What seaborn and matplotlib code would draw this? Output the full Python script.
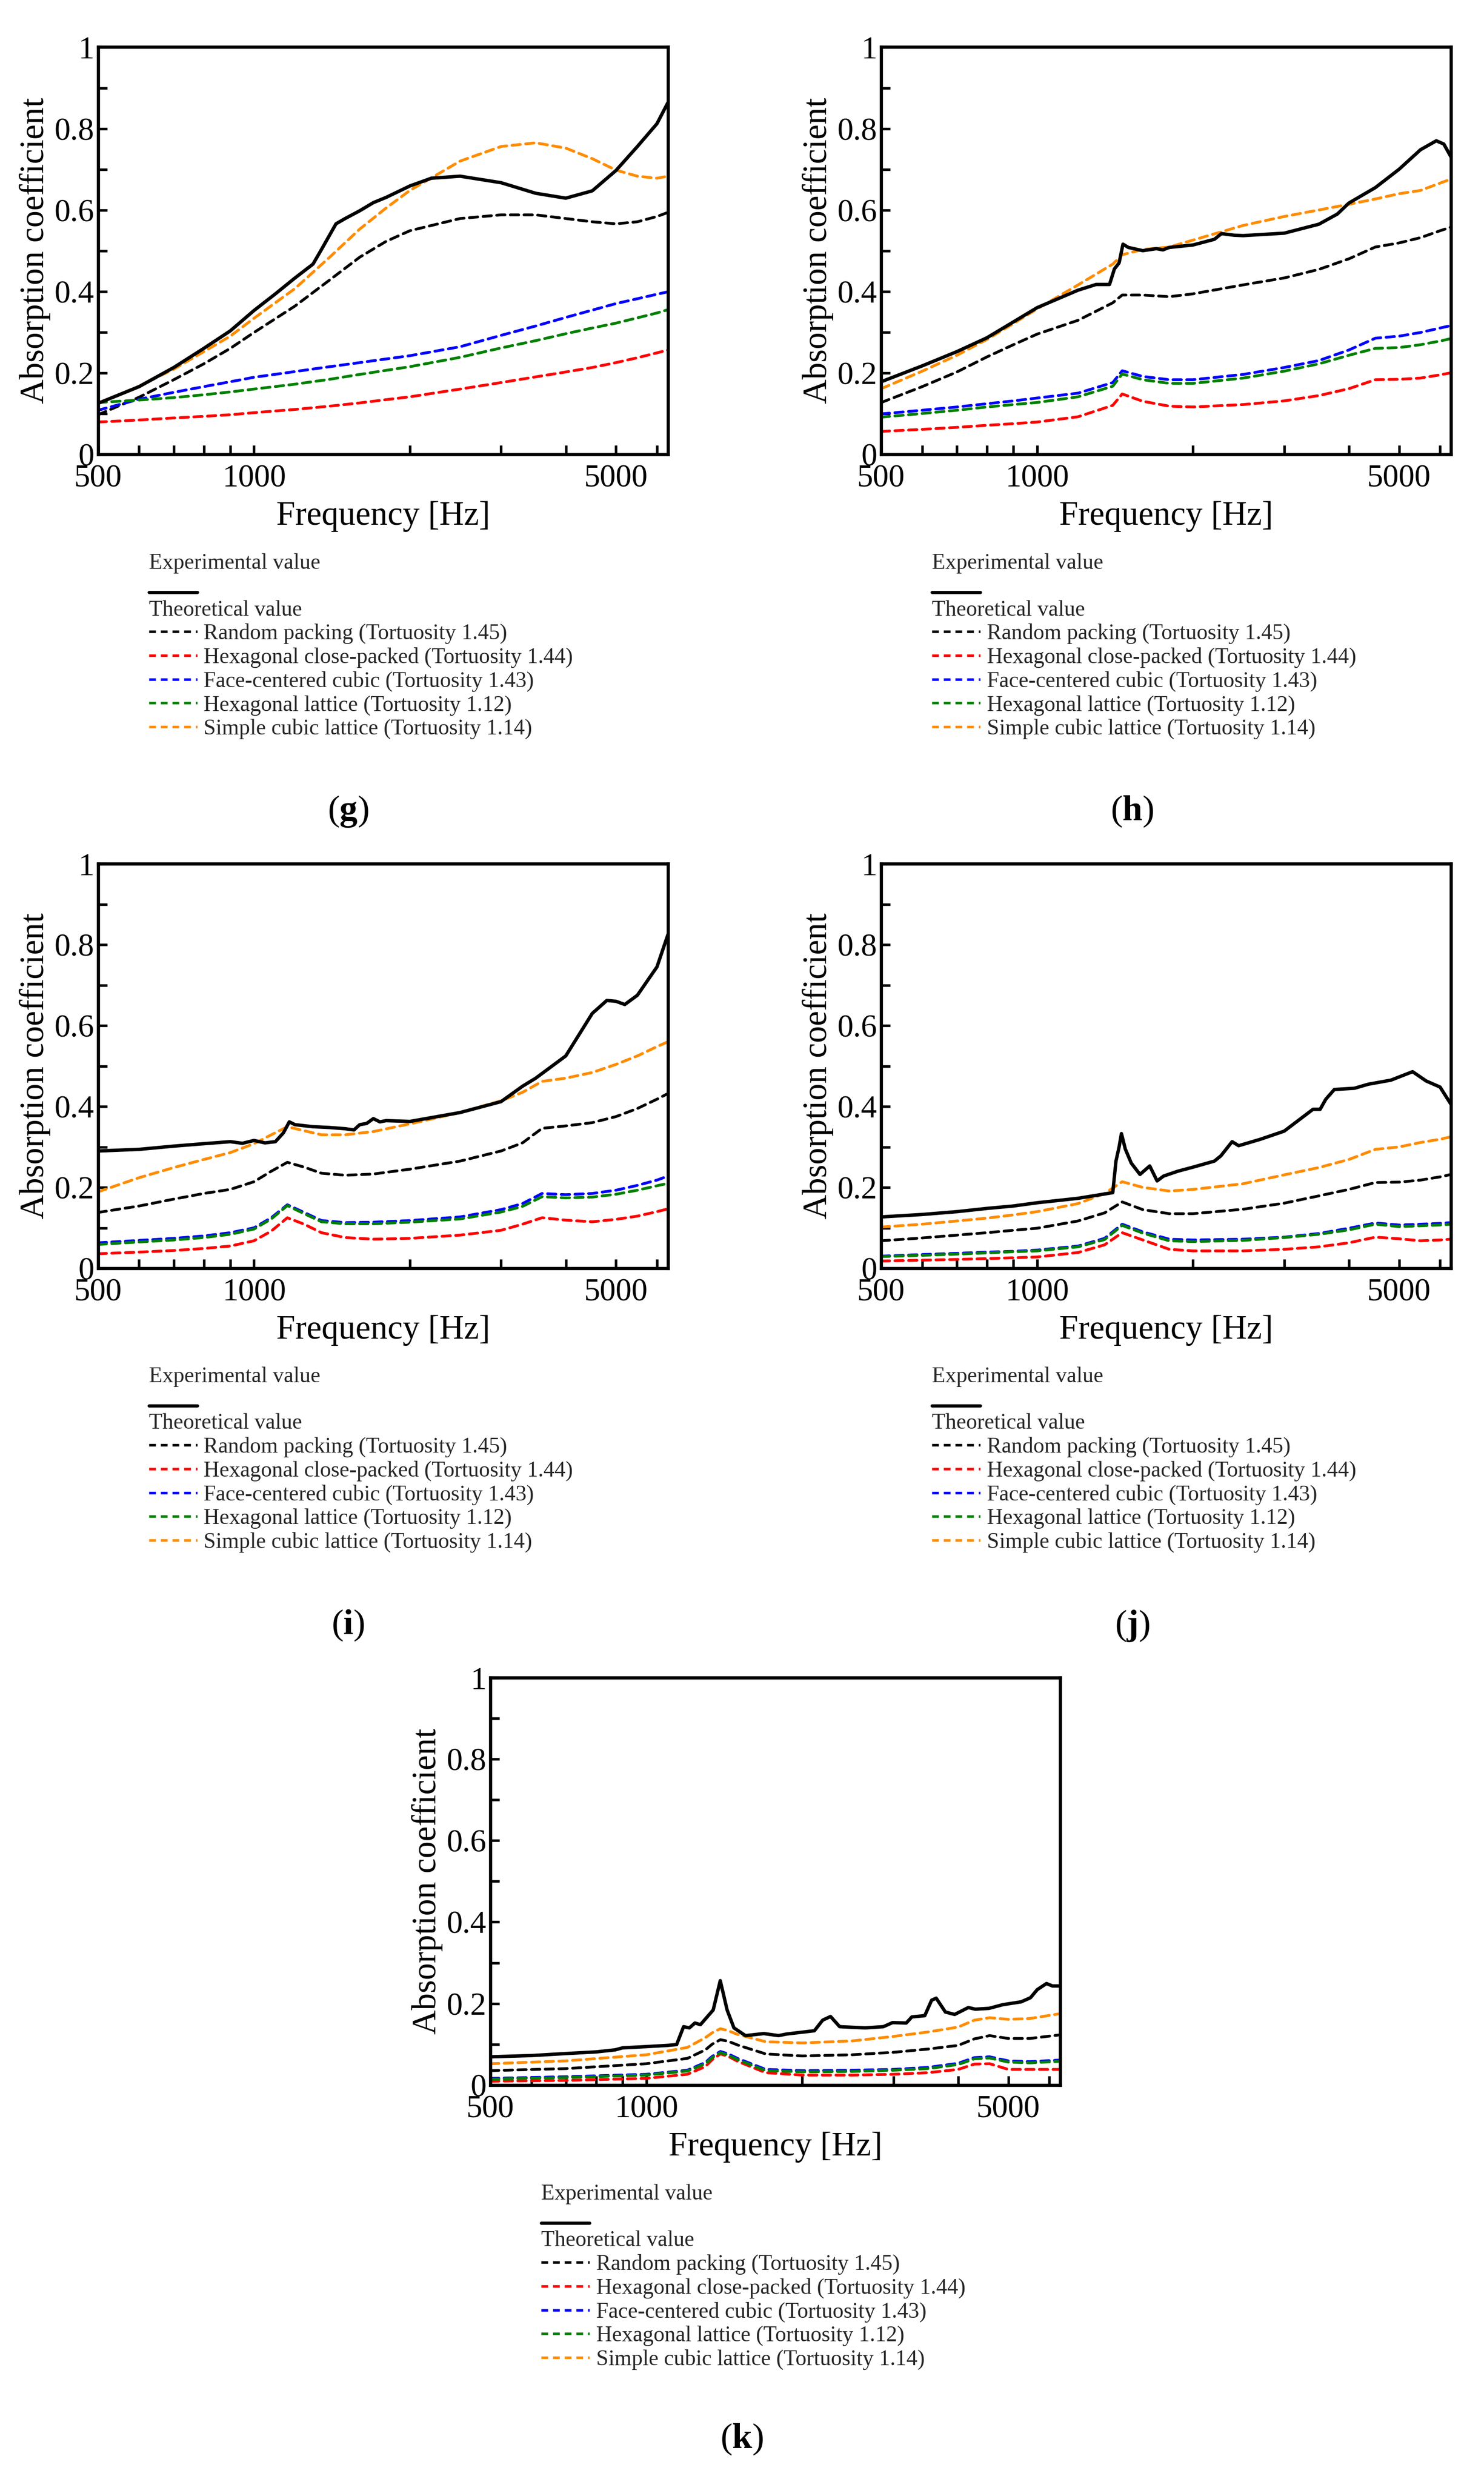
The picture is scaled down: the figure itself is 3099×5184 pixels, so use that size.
import matplotlib
matplotlib.use("Agg")
import matplotlib.pyplot as plt
from matplotlib.lines import Line2D
import seaborn as sns

# ---- common -------------------------------------------------------------
series_names = [
    "Random packing (Tortuosity 1.45)",
    "Hexagonal close-packed (Tortuosity 1.44)",
    "Face-centered cubic (Tortuosity 1.43)",
    "Hexagonal lattice (Tortuosity 1.12)",
    "Simple cubic lattice (Tortuosity 1.14)",
]
series_colors = ["#000000", "#ff0000", "#0000ff", "#008000", "#ff8c00"]
x_major = [500, 1000, 5000]
x_minor = [600, 700, 800, 900, 2000, 3000, 4000, 6000]
y_major = [0, 0.2, 0.4, 0.6, 0.8, 1.0]
y_major_labels = ["0", "0.2", "0.4", "0.6", "0.8", "1"]
y_minor = [0.1, 0.3, 0.5, 0.7, 0.9]

# ---- panel g ------------------------------------------------------------
g_freq = [500, 600, 700, 800, 900, 1000, 1200, 1400, 1600, 1800, 2000, 2500,
          3000, 3500, 4000, 4500, 5000, 5500, 6000, 6300]
g_random = [.097, .14, .183, .222, .26, .299, .364, .428, .484, .523, .549, .579,
            .588, .588, .579, .571, .566, .571, .584, .594]
g_hcp = [.079, .084, .089, .093, .097, .102, .11, .118, .126, .134, .141, .16,
         .176, .19, .202, .213, .225, .237, .249, .256]
g_fcc = [.108, .135, .152, .166, .178, .189, .203, .215, .225, .234, .242, .264,
         .292, .315, .336, .354, .37, .382, .393, .399]
g_hex = [.127, .133, .139, .146, .153, .16, .172, .184, .196, .206, .215, .238,
         .261, .279, .296, .31, .322, .335, .347, .355]
g_sc = [.125, .167, .209, .252, .29, .334, .407, .484, .553, .605, .648, .72,
        .756, .765, .752, .726, .698, .683, .678, .683]
g_exp_freq = [500, 600, 700, 800, 900, 1000, 1100, 1200, 1300, 1350, 1440, 1500,
              1600, 1700, 1800, 2000, 2200, 2500, 3000, 3500, 4000, 4500, 5000,
              5500, 6000, 6300]
g_exp = [.125, .166, .213, .26, .303, .353, .394, .433, .467, .503, .566, .579,
         .598, .618, .631, .659, .678, .683, .667, .641, .629, .647, .697, .756,
         .812, .864]

# ---- panel h ------------------------------------------------------------
h_freq = [500, 600, 700, 800, 900, 1000, 1200, 1400, 1460, 1600, 1800, 2000,
          2500, 3000, 3500, 4000, 4500, 5000, 5500, 6000, 6300]
h_random = [.127, .166, .202, .239, .269, .295, .329, .372, .391, .391, .387, .394,
            .416, .433, .454, .48, .509, .519, .532, .549, .558]
h_hcp = [.056, .061, .066, .071, .075, .079, .092, .12, .148, .13, .118, .116,
         .122, .131, .144, .161, .183, .184, .187, .195, .2]
h_fcc = [.099, .108, .116, .124, .131, .138, .15, .176, .205, .191, .183, .183,
         .196, .213, .23, .256, .285, .29, .299, .31, .316]
h_hex = [.091, .1, .108, .116, .122, .127, .141, .167, .197, .183, .174, .174,
         .187, .204, .222, .243, .26, .262, .269, .278, .284]
h_sc = [.161, .204, .243, .282, .321, .357, .416, .467, .49, .503, .509, .526,
        .562, .584, .6, .614, .627, .64, .648, .666, .676]
h_exp_freq = [500, 600, 700, 800, 900, 1000, 1200, 1300, 1380, 1410, 1440, 1465,
              1500, 1600, 1700, 1750, 1800, 2000, 2200, 2270, 2400, 2500, 3000,
              3500, 3800, 4000, 4500, 5000, 5500, 5900, 6100, 6300]
h_exp = [.178, .217, .252, .286, .325, .36, .403, .417, .417, .455, .47, .516,
         .508, .5, .505, .502, .508, .514, .528, .542, .538, .537, .543, .565,
         .59, .617, .655, .7, .748, .77, .762, .73]

# ---- panel i ------------------------------------------------------------
i_freq = [500, 600, 700, 800, 900, 1000, 1080, 1160, 1250, 1350, 1500, 1700,
          2000, 2500, 3000, 3300, 3600, 4000, 4500, 5000, 5500, 6000, 6300]
i_random = [.138, .154, .171, .185, .195, .214, .24, .262, .25, .235, .23, .233,
            .245, .265, .29, .31, .346, .352, .36, .375, .395, .418, .432]
i_hcp = [.036, .04, .044, .049, .055, .068, .092, .125, .109, .088, .076, .072,
         .074, .082, .094, .109, .125, .119, .115, .121, .129, .14, .147]
i_fcc = [.063, .069, .074, .08, .088, .1, .125, .157, .138, .118, .113, .114,
         .118, .127, .145, .16, .185, .182, .185, .193, .205, .218, .228]
i_hex = [.059, .065, .07, .076, .084, .097, .122, .155, .135, .115, .11, .11,
         .114, .122, .139, .153, .177, .174, .176, .183, .193, .204, .21]
i_sc = [.189, .224, .249, .269, .286, .308, .33, .35, .34, .33, .33, .338,
        .357, .385, .414, .435, .462, .47, .484, .504, .525, .548, .56]
i_exp_freq = [500, 600, 700, 800, 900, 950, 1000, 1050, 1100, 1140, 1170, 1200,
              1300, 1400, 1500, 1560, 1600, 1650, 1700, 1750, 1800, 2000, 2500,
              3000, 3300, 3500, 4000, 4500, 4800, 5000, 5200, 5500, 6000, 6300]
i_exp = [.29, .294, .302, .308, .313, .309, .316, .31, .313, .335, .362, .355,
         .35, .348, .345, .342, .355, .358, .37, .362, .365, .363, .385, .412,
         .45, .47, .525, .63, .662, .66, .652, .675, .745, .825]

# ---- panel j ------------------------------------------------------------
j_freq = [500, 600, 700, 800, 900, 1000, 1200, 1350, 1460, 1600, 1800, 2000,
          2500, 3000, 3500, 4000, 4500, 5000, 5500, 6000, 6300]
j_random = [.068, .075, .082, .088, .094, .099, .117, .137, .164, .145, .135, .135,
            .146, .161, .179, .195, .212, .213, .218, .226, .232]
j_hcp = [.018, .02, .022, .024, .026, .028, .039, .058, .088, .07, .047, .043,
         .043, .047, .053, .063, .077, .073, .068, .07, .072]
j_fcc = [.03, .034, .037, .04, .042, .045, .055, .074, .109, .09, .072, .07,
         .072, .077, .086, .099, .112, .107, .109, .111, .113]
j_hex = [.029, .032, .035, .038, .041, .043, .053, .071, .106, .087, .068, .066,
         .069, .076, .084, .095, .109, .103, .105, .107, .109]
j_sc = [.102, .109, .117, .124, .132, .14, .16, .185, .214, .2, .191, .195,
        .209, .231, .249, .269, .294, .3, .311, .319, .325]
j_exp_freq = [500, 600, 700, 800, 900, 1000, 1200, 1400, 1420, 1440, 1455, 1480,
              1520, 1580, 1650, 1705, 1755, 1870, 2000, 2200, 2264, 2380, 2450,
              2700, 3000, 3410, 3520, 3610, 3750, 4100, 4360, 4820, 5310, 5640,
              6000, 6300]
j_exp = [.127, .133, .14, .148, .154, .162, .173, .187, .265, .3, .333, .295,
         .26, .232, .253, .216, .228, .24, .25, .265, .278, .313, .303, .319,
         .339, .393, .393, .418, .442, .445, .455, .465, .486, .463, .448, .405]

# ---- panel k ------------------------------------------------------------
k_freq = [500, 700, 1000, 1200, 1300, 1340, 1390, 1440, 1500, 1700, 2000, 2500,
          3000, 3500, 4000, 4300, 4600, 5000, 5500, 6300]
k_random = [.035, .04, .052, .065, .086, .1, .111, .107, .098, .076, .071, .074,
            .08, .088, .097, .113, .121, .114, .114, .123]
k_hcp = [.009, .011, .016, .026, .045, .062, .076, .07, .058, .03, .024, .024,
         .026, .03, .038, .051, .052, .038, .038, .038]
k_fcc = [.016, .02, .026, .036, .055, .07, .082, .076, .065, .038, .035, .036,
         .038, .043, .053, .067, .069, .059, .057, .061]
k_hex = [.014, .018, .024, .034, .052, .067, .079, .073, .062, .035, .032, .033,
         .036, .04, .05, .064, .066, .056, .054, .058]
k_sc = [.052, .059, .074, .092, .116, .128, .138, .133, .124, .106, .103, .108,
        .119, .13, .142, .159, .165, .161, .163, .175]
k_exp_freq = [500, 600, 700, 800, 870, 900, 1000, 1100, 1144, 1180, 1211, 1241,
              1272, 1346, 1389, 1432, 1476, 1554, 1686, 1800, 1867, 2111, 2190,
              2268, 2362, 2644, 2869, 2988, 3176, 3256, 3448, 3555, 3628, 3779,
              3938, 4185, 4317, 4589, 4878, 5292, 5516, 5686, 5924, 6083, 6300]
k_exp = [.069, .072, .077, .081, .086, .091, .094, .097, .099, .143, .14, .152,
         .148, .184, .256, .184, .14, .121, .126, .121, .125, .133, .159, .168,
         .143, .14, .143, .153, .152, .167, .17, .208, .213, .179, .173, .19,
         .186, .188, .197, .204, .214, .234, .249, .243, .243]

# ---- style --------------------------------------------------------------
sns.set_theme(style="white")
plt.rcParams["font.family"] = ["Liberation Serif", "DejaVu Serif"]
plt.rcParams["mathtext.fontset"] = "custom"
plt.rcParams["mathtext.rm"] = "Liberation Serif"
plt.rcParams["mathtext.bf"] = "Liberation Serif:bold"

DASH = (0, (3.0, 1.9))
LEG_FS = 11


def draw_panel(ax, freq, theory, exp_freq, exp_vals):
    ax.set_xscale("log")
    for vals, color in zip(theory, series_colors):
        sns.lineplot(x=freq, y=vals, color=color, lw=1.4, linestyle=DASH,
                     dash_capstyle="round", ax=ax)
    sns.lineplot(x=exp_freq, y=exp_vals, color="black", lw=1.7, ax=ax)

    ax.set_xlim(500, 6300)
    ax.set_ylim(0, 1)
    ax.set_xticks(x_major, labels=[str(v) for v in x_major])
    ax.set_xticks(x_minor, minor=True)
    ax.set_yticks(y_major, labels=y_major_labels)
    ax.set_yticks(y_minor, minor=True)
    ax.tick_params(which="both", direction="in", length=4.5, width=1.3,
                   color="black", labelsize=16, labelcolor="black")
    ax.tick_params(axis="x", which="both", pad=5, bottom=True)
    ax.tick_params(axis="y", which="both", pad=2, left=True)
    for sp in ax.spines.values():
        sp.set_linewidth(1.6)
        sp.set_color("black")

    ax.set_xlabel("Frequency [Hz]", fontsize=17, color="black")
    ax.set_ylabel("Absorption coefficient", fontsize=17, color="black")
    ax.xaxis.set_label_coords(0.5, -0.115)
    ax.yaxis.set_label_coords(-0.083, 0.5)

    # two stacked legends below the axes
    exp_handle = [Line2D([], [], color="black", lw=1.6)]
    leg1 = ax.legend(exp_handle, [""], title="Experimental value",
                     loc="upper left", bbox_to_anchor=(0.089, -0.243),
                     frameon=False, alignment="left", fontsize=LEG_FS,
                     title_fontsize=LEG_FS, borderpad=0, borderaxespad=0,
                     handlelength=2.2, handletextpad=0.3)
    ax.add_artist(leg1)
    th_handles = [Line2D([], [], color=c, lw=1.3, linestyle=(0, (2.6, 1.9)))
                  for c in series_colors]
    ax.legend(th_handles, series_names, title="Theoretical value",
              loc="upper left", bbox_to_anchor=(0.089, -0.358),
              frameon=False, alignment="left", fontsize=LEG_FS,
              title_fontsize=LEG_FS, borderpad=0, borderaxespad=0,
              handlelength=2.2, handletextpad=0.3, labelspacing=0.15)


fig = plt.figure(figsize=(10.33, 17.28), dpi=300)

panels = [
    ([0.0661, 0.817, 0.384, 0.164], g_freq, [g_random, g_hcp, g_fcc, g_hex, g_sc], g_exp_freq, g_exp, "g", 0.2345, 0.673),
    ([0.5938, 0.817, 0.384, 0.164], h_freq, [h_random, h_hcp, h_fcc, h_hex, h_sc], h_exp_freq, h_exp, "h", 0.763, 0.673),
    ([0.0661, 0.489, 0.384, 0.163], i_freq, [i_random, i_hcp, i_fcc, i_hex, i_sc], i_exp_freq, i_exp, "i", 0.2345, 0.345),
    ([0.5938, 0.489, 0.384, 0.163], j_freq, [j_random, j_hcp, j_fcc, j_hex, j_sc], j_exp_freq, j_exp, "j", 0.763, 0.345),
    ([0.3305, 0.160, 0.384, 0.164], k_freq, [k_random, k_hcp, k_fcc, k_hex, k_sc], k_exp_freq, k_exp, "k", 0.5, 0.0172),
]

for rect, freq, theory, ef, ev, tag, tx, ty in panels:
    ax = fig.add_axes(rect)
    draw_panel(ax, freq, theory, ef, ev)
    fig.text(tx, ty, r"($\mathbf{" + tag + r"}$)", ha="center", va="center",
             fontsize=18, color="black")

fig.savefig("out.png", dpi=300, facecolor="white")
plt.close(fig)
